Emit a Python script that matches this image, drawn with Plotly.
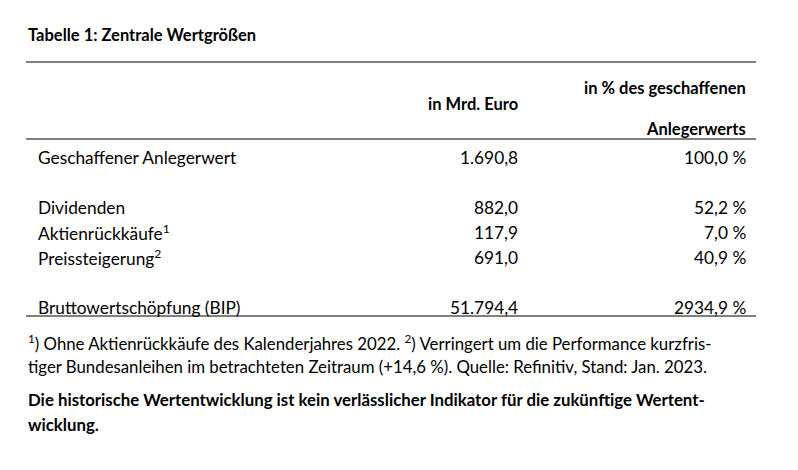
import plotly.graph_objects as go

title = "Tabelle 1: Zentrale Wertgrößen"
col_heads = ["in Mrd. Euro", "in % des geschaffenen", "Anlegerwerts"]
labels = ["Geschaffener Anlegerwert", "Dividenden", "Aktienrückkäufe<sup>1</sup>",
          "Preissteigerung<sup>2</sup>", "Bruttowertschöpfung (BIP)"]
mrd = ["1.690,8", "882,0", "117,9", "691,0", "51.794,4"]
pct = ["100,0 %", "52,2 %", "7,0 %", "40,9 %", "2934,9 %"]
row_y = [149, 199, 224, 249, 299]
notes = [
    "<sup>1</sup>) Ohne Aktienrückkäufe des Kalenderjahres 2022. <sup>2</sup>) Verringert um die Performance kurzfris-",
    "tiger Bundesanleihen im betrachteten Zeitraum (+14,6 %). Quelle: Refinitiv, Stand: Jan. 2023.",
    "<b>Die historische Wertentwicklung ist kein verlässlicher Indikator für die zukünftige Wertent-</b>",
    "<b>wicklung.</b>",
]
note_y = [334, 358, 391, 416]

W, H = 798, 470
F = "Lato, Carlito, sans-serif"
fs = 17.3
ann = []
def a(x, y, t, anchor="left", bold=False, size=fs):
    ann.append(dict(x=x / W, y=1 - y / H, text=(f"<b>{t}</b>" if bold else t), xanchor=anchor,
                    yanchor="middle", showarrow=False, font=dict(family=F, size=size, color="black"),
                    xref="paper", yref="paper"))

a(18, 27, title, bold=True, size=16.5)
a(512, 96, col_heads[0], "right", True, 16.5)
a(740, 80, col_heads[1], "right", True, 16.5)
a(740, 121, col_heads[2], "right", True, 16.5)
for l, m, p, y in zip(labels, mrd, pct, row_y):
    a(28, y, l); a(512, y, m, "right"); a(740, y, p, "right")
for n, y in zip(notes, note_y):
    a(18, y, n, size=16.8)

shapes = [dict(type="line", x0=18 / W, x1=748 / W, y0=1 - y / H, y1=1 - y / H, xref="paper", yref="paper",
               line=dict(color="black", width=1)) for y in (54, 131, 308)]

fig = go.Figure()
fig.update_layout(width=W, height=H, margin=dict(l=0, r=0, t=0, b=0, autoexpand=False),
                  paper_bgcolor="white", plot_bgcolor="white",
                  xaxis=dict(visible=False), yaxis=dict(visible=False),
                  annotations=ann, shapes=shapes)
fig.write_html("out.html")
